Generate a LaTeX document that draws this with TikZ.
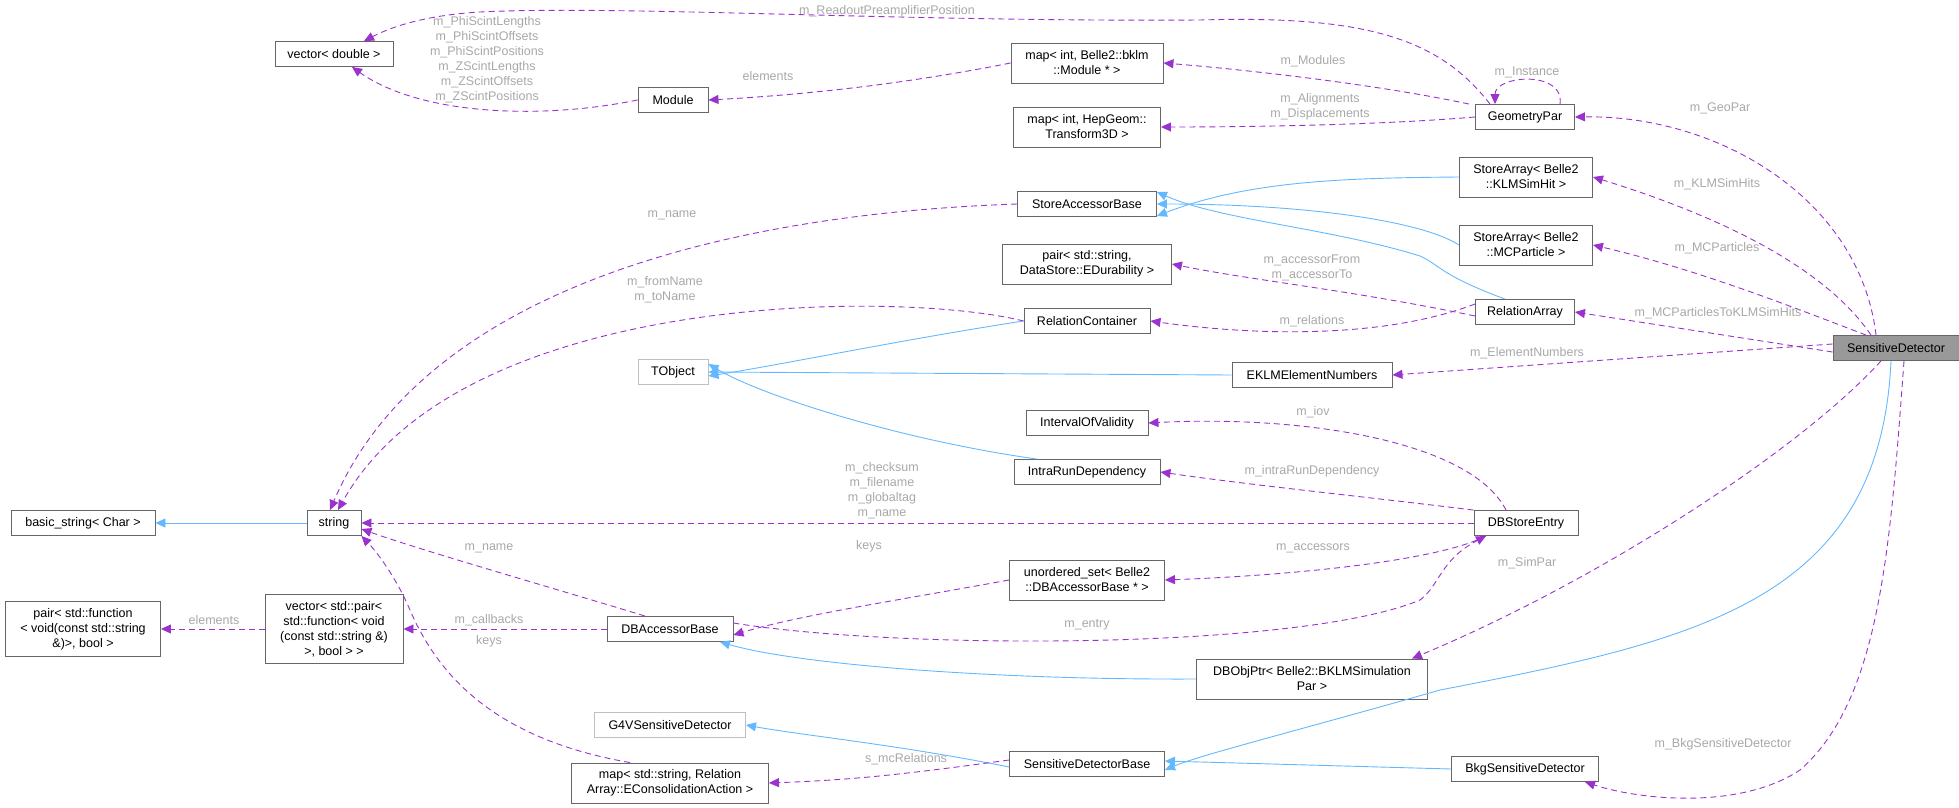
\documentclass[tikz,border=0pt]{standalone}
\usepackage{fontspec}
\setmainfont{Liberation Sans}
\usetikzlibrary{arrows.meta}
\usetikzlibrary{positioning}

\definecolor{edgePurple}{HTML}{9A32CD}
\definecolor{edgeBlue}{HTML}{63B8FF}
\definecolor{lblGray}{HTML}{A8A8A8}

\begin{document}
\begin{tikzpicture}[x=1pt, y=-1pt,
  font=\fontsize{12.5}{15}\selectfont,
  cls/.style={draw=black!60, fill=white, line width=0.9pt, align=center, inner sep=1pt, minimum height=25pt},
  ext/.style={cls, draw=black!25},
  lbl/.style={text=lblGray, align=center, inner sep=0pt},
  uses/.style={draw=edgePurple, dashed, dash pattern=on 6pt off 4pt, line width=0.9pt, -{Triangle[length=10pt,width=9pt]}},
  isa/.style={draw=edgeBlue, line width=0.9pt, -{Triangle[length=10pt,width=9pt]}}]

\useasboundingbox (0,0) rectangle (1959,808);

% left columns
\node[cls, minimum width=118] (vecD) at (334,54) {vector< double >};
\node[cls, minimum width=144] (bstr) at (83,523) {basic\_string< Char >};
\node[cls, minimum width=54] (str) at (334,523) {string};
\node[cls, minimum width=155, minimum height=55] (pairFn) at (83,629) {pair< std::function\\< void(const std::string\\\&)>, bool >};
\node[cls, minimum width=138, minimum height=69] (vecPair) at (334,629) {vector< std::pair<\\std::function< void\\(const std::string \&)\\>, bool > >};

% second column
\node[cls, minimum width=70] (mod) at (673,100) {Module};
\node[ext, minimum width=70] (tobj) at (673,372) {TObject};
\node[cls, minimum width=126] (dbAcc) at (670,629) {DBAccessorBase};
\node[ext, minimum width=151] (g4sd) at (670,725) {G4VSensitiveDetector};
\node[cls, minimum width=197, minimum height=40] (mapRel) at (670,783) {map< std::string, Relation\\Array::EConsolidationAction >};

% third column
\node[cls, minimum width=152, minimum height=40] (mapMod) at (1087,63) {map< int, Belle2::bklm\\::Module * >};
\node[cls, minimum width=147, minimum height=40] (mapTr) at (1087,127) {map< int, HepGeom::\\Transform3D >};
\node[cls, minimum width=139] (sab) at (1087,204) {StoreAccessorBase};
\node[cls, minimum width=169, minimum height=40] (pairDS) at (1087,264) {pair< std::string,\\DataStore::EDurability >};
\node[cls, minimum width=126] (relCont) at (1087,321) {RelationContainer};
\node[cls, minimum width=122] (iov) at (1087,423) {IntervalOfValidity};
\node[cls, minimum width=146] (intra) at (1087,472) {IntraRunDependency};
\node[cls, minimum width=155, minimum height=40] (uset) at (1087,580) {unordered\_set< Belle2\\::DBAccessorBase * >};
\node[cls, minimum width=155] (sdBase) at (1087,764) {SensitiveDetectorBase};
\node[cls, minimum width=160] (eklm) at (1312,375) {EKLMElementNumbers};
\node[cls, minimum width=231, minimum height=40] (dbObj) at (1312,679) {DBObjPtr< Belle2::BKLMSimulation\\Par >};

% fourth column
\node[cls, minimum width=99] (geo) at (1525,117) {GeometryPar};
\node[cls, minimum width=133, minimum height=40] (saHit) at (1526,177) {StoreArray< Belle2\\::KLMSimHit >};
\node[cls, minimum width=133, minimum height=40] (saMC) at (1526,245) {StoreArray< Belle2\\::MCParticle >};
\node[cls, minimum width=99] (relArr) at (1525,312) {RelationArray};
\node[cls, minimum width=104] (dbse) at (1526,523) {DBStoreEntry};
\node[cls, minimum width=147] (bkg) at (1525,769) {BkgSensitiveDetector};

\node[cls, fill=black!40, minimum width=126] (sd) at (1896,348) {SensitiveDetector};

% inheritance
\draw[isa] (str.west) -- (bstr.east);
\draw[isa] (saHit.west) .. controls (1350,178) and (1250,180) .. ([yshift=-12]sab.east);
\draw[isa] (saMC.west) .. controls (1420,220) and (1300,204) .. (sab.east);
\draw[isa] ([xshift=-20]relArr.north) .. controls (1440,275) and (1440,265) .. (1420,256) .. controls (1330,228) and (1220,220) .. ([yshift=12]sab.east);
\draw[isa] (relCont.west) .. controls (900,340) and (780,365) .. ([yshift=-4]tobj.east);
\draw[isa] (eklm.west) -- (tobj.east);
\draw[isa] ([xshift=-50]intra.north) .. controls (900,440) and (760,395) .. ([yshift=8]tobj.east);
\draw[isa] (dbObj.west) .. controls (1000,680) and (800,665) .. ([xshift=50]dbAcc.south);
\draw[isa] ([xshift=-5]sd.south) .. controls (1880,600) and (1700,640) .. (1440,690) .. controls (1300,730) and (1200,755) .. ([yshift=-6]sdBase.east);
\draw[isa] ([yshift=-3]sdBase.west) .. controls (900,745) and (800,735) .. (g4sd.east);
\draw[isa] (bkg.west) -- ([yshift=3]sdBase.east);

% usage
\draw[uses] ([xshift=-35]geo.north) .. controls (1440,40) and (1370,15) .. (1200,20) .. controls (900,22) and (620,5) .. (480,12) .. controls (430,15) and (395,25) .. ([xshift=30]vecD.north);
\node[lbl] (lRead) at (887,11) {m\_ReadoutPreamplifierPosition};
\draw[uses] (mod.west) .. controls (540,120) and (420,115) .. ([xshift=18]vecD.south);
\node[lbl] (lScint) at (487,60) {m\_PhiScintLengths\\m\_PhiScintOffsets\\m\_PhiScintPositions\\m\_ZScintLengths\\m\_ZScintOffsets\\m\_ZScintPositions};
\draw[uses] (mapMod.west) .. controls (900,85) and (800,95) .. (mod.east);
\node[lbl] (lElem) at (768,76) {elements};
\draw[uses] ([xshift=-6]geo.north west) .. controls (1380,85) and (1250,70) .. (mapMod.east);
\node[lbl] (lMods) at (1313,61) {m\_Modules};
\draw[uses] ([xshift=35]geo.north) .. controls (1565,70) and (1495,75) .. ([xshift=-30]geo.north);
\node[lbl] (lInst) at (1527,72) {m\_Instance};
\draw[uses] (geo.west) .. controls (1380,125) and (1250,127) .. (mapTr.east);
\node[lbl] (lAlign) at (1320,107) {m\_Alignments\\m\_Displacements};
\draw[uses] ([xshift=-20]sd.north) .. controls (1860,200) and (1720,115) .. (geo.east);
\node[lbl] (lGeo) at (1720,108) {m\_GeoPar};
\draw[uses] ([xshift=-25]sd.north) .. controls (1820,260) and (1700,210) .. (saHit.east);
\node[lbl] (lHit) at (1717,184) {m\_KLMSimHits};
\draw[uses] ([xshift=-30]sd.north) .. controls (1800,310) and (1700,270) .. (saMC.east);
\node[lbl] (lMC) at (1717,248) {m\_MCParticles};
\draw[uses] ([yshift=-4]sd.west) -- (relArr.east);
\node[lbl] (lMCHit) at (1718,313) {m\_MCParticlesToKLMSimHits};
\draw[uses] ([yshift=4]sd.west) -- (eklm.east);
\node[lbl] (lElNum) at (1527,353) {m\_ElementNumbers};
\draw[uses] (sab.west) .. controls (700,215) and (420,300) .. ([xshift=-4]str.north);
\node[lbl] (lName1) at (672,215) {m\_name};
\draw[uses] ([yshift=-4]relArr.west) .. controls (1350,290) and (1250,280) .. (pairDS.east);
\node[lbl] (lAccFT) at (1312,268) {m\_accessorFrom\\m\_accessorTo};
\draw[uses] ([yshift=8]relArr.west) .. controls (1380,340) and (1250,335) .. (relCont.east);
\node[lbl] (lRel) at (1312,321) {m\_relations};
\draw[uses] (relCont.west) .. controls (900,290) and (460,290) .. ([xshift=4]str.north);
\node[lbl] (lFromTo) at (665,290) {m\_fromName\\m\_toName};
\draw[uses] ([xshift=-20]dbse.north) .. controls (1470,440) and (1300,415) .. (iov.east);
\node[lbl] (lIov) at (1313,412) {m\_iov};
\draw[uses] (dbse.north west) .. controls (1350,495) and (1250,485) .. (intra.east);
\node[lbl] (lIntra) at (1312,471) {m\_intraRunDependency};
\draw[uses] (dbse.west) -- (str.east);
\node[lbl] (lChk) at (882,491) {m\_checksum\\m\_filename\\m\_globaltag\\m\_name};
\draw[uses] ([xshift=-25]dbAcc.north) .. controls (560,590) and (420,550) .. ([yshift=-6]str.east);
\node[lbl] (lName2) at (489,548) {m\_name};
\draw[uses] ([xshift=-40]mapRel.north) .. controls (500,740) and (440,680) .. (410,610) .. controls (395,575) and (375,550) .. (str.south east);
\node[lbl] (lKeys1) at (489,641) {keys};
\draw[uses] (dbAcc.west) -- (vecPair.east);
\node[lbl] (lCb) at (489,620) {m\_callbacks};
\draw[uses] (vecPair.west) -- (pairFn.east);
\node[lbl] (lElem2) at (214,620) {elements};
\draw[uses] (uset.west) .. controls (900,600) and (800,615) .. ([yshift=-6]dbAcc.east);
\node[lbl] (lKeys2) at (869,546) {keys};
\draw[uses] ([xshift=-40]dbse.south) .. controls (1440,560) and (1300,575) .. (uset.east);
\node[lbl] (lAcc) at (1313,548) {m\_accessors};
\draw[uses] ([yshift=6]dbAcc.east) .. controls (900,650) and (1300,650) .. (1420,600) .. controls (1440,585) and (1440,560) .. ([xshift=-40]dbse.south);
\node[lbl] (lEntry) at (1087,625) {m\_entry};
\draw[uses] ([xshift=-15]sd.south) .. controls (1800,450) and (1600,580) .. ([xshift=100]dbObj.north);
\node[lbl] (lSim) at (1527,563) {m\_SimPar};
\draw[uses] ([xshift=8]sd.south) .. controls (1890,550) and (1880,700) .. (1800,770) .. controls (1740,810) and (1640,800) .. ([xshift=60]bkg.south);
\node[lbl] (lBkg) at (1723,744) {m\_BkgSensitiveDetector};
\draw[uses] ([yshift=4]sdBase.west) .. controls (900,775) and (850,780) .. (mapRel.east);
\node[lbl] (lMcRel) at (906,759) {s\_mcRelations};

\end{tikzpicture}
\end{document}
